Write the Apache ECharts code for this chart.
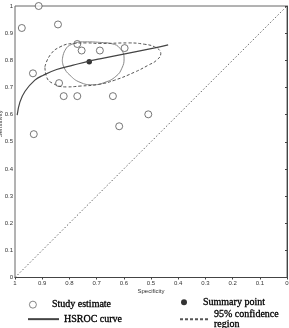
<!DOCTYPE html>
<html><head><meta charset="utf-8">
<script src="https://cdn.jsdelivr.net/npm/echarts@6/dist/echarts.min.js"></script>
<style>html,body{margin:0;padding:0;background:#fff}#c{width:289px;height:328px}</style>
</head><body><div id="c"></div>
<script>
// Study estimates: [specificity, sensitivity]
var studySpec = [0.975, 0.913, 0.842, 0.771, 0.755, 0.688, 0.597, 0.934, 0.838, 0.821, 0.771, 0.640, 0.617, 0.931, 0.510];
var studySens = [0.919, 1.000, 0.932, 0.860, 0.836, 0.836, 0.845, 0.752, 0.716, 0.668, 0.668, 0.668, 0.557, 0.528, 0.601];
// Summary point
var summarySpec = [0.727];
var summarySens = [0.795];
// HSROC curve
var hsrocSpec = [0.992, 0.982, 0.963, 0.927, 0.896, 0.847, 0.786, 0.728, 0.688, 0.633, 0.559, 0.486, 0.437];
var hsrocSens = [0.598, 0.646, 0.686, 0.727, 0.745, 0.766, 0.782, 0.797, 0.805, 0.816, 0.831, 0.846, 0.857];
// 95% confidence region (dashed)
var confSpec = [0.890, 0.871, 0.835, 0.786, 0.737, 0.688, 0.584, 0.523, 0.486, 0.465, 0.464, 0.480, 0.510, 0.559, 0.633, 0.694, 0.761, 0.810, 0.859, 0.884, 0.890];
var confSens = [0.776, 0.819, 0.849, 0.862, 0.864, 0.862, 0.864, 0.859, 0.849, 0.831, 0.825, 0.800, 0.782, 0.757, 0.727, 0.711, 0.705, 0.702, 0.714, 0.739, 0.776];
// Inner solid region
var predSpec = [0.826, 0.816, 0.791, 0.743, 0.688, 0.644, 0.614, 0.599, 0.607, 0.629, 0.669, 0.714, 0.761, 0.798, 0.820, 0.826];
var predSens = [0.800, 0.837, 0.859, 0.868, 0.866, 0.861, 0.844, 0.808, 0.771, 0.741, 0.719, 0.710, 0.719, 0.745, 0.774, 0.800];
// Chance line
var diagSpec = [1, 0];
var diagSens = [0, 1];

function zip(a, b) { return a.map(function (v, i) { return [v, b[i]]; }); }

var chart = echarts.init(document.getElementById('c'), null, {renderer: 'canvas'});
var tickFont = {fontFamily: 'Arial, Liberation Sans, sans-serif', fontSize: 6, color: '#333'};
var legFont = {fontFamily: 'Liberation Serif, Times New Roman, serif', fontSize: 10, fontWeight: 'normal', color: '#000', lineHeight: 10, textBorderColor: '#000', textBorderWidth: 0.3};

chart.setOption({
  animation: false,
  backgroundColor: '#fff',
  grid: {left: 15, right: 2, top: 6, bottom: 50.5, containLabel: false, outerBoundsMode: 'none',
         show: true, borderColor: '#666', borderWidth: 1},
  xAxis: {
    type: 'value', min: 0, max: 1, interval: 0.1, inverse: true,
    name: 'Specificity', nameLocation: 'middle', nameGap: 11, nameMoveOverlap: false,
    nameTextStyle: tickFont,
    axisLine: {show: true, lineStyle: {color: '#444', width: 1}},
    axisTick: {show: true, length: 2, lineStyle: {color: '#444'}},
    axisLabel: Object.assign({margin: 3}, tickFont),
    splitLine: {show: false}
  },
  yAxis: {
    type: 'value', min: 0, max: 1, interval: 0.1,
    name: 'Sensitivity', nameLocation: 'middle', nameGap: 12, nameRotate: 90, nameMoveOverlap: false,
    nameTextStyle: Object.assign({padding: [0, 0, 0, 36]}, tickFont),
    axisLine: {show: true, lineStyle: {color: '#444', width: 1}},
    axisTick: {show: true, length: 2, lineStyle: {color: '#444'}},
    axisLabel: Object.assign({margin: 2}, tickFont),
    splitLine: {show: false}
  },
  legend: [
    {data: [{name: 'Study estimate'}], left: 24, top: 294.5, itemWidth: 28, itemHeight: 7, textStyle: legFont, selectedMode: false,
     itemStyle: {borderWidth: 0.8, borderColor: '#444'}},
    {data: [{name: 'HSROC curve'}], left: 22, top: 309, itemWidth: 31, itemHeight: 8, textStyle: legFont, selectedMode: false,
     itemStyle: {opacity: 0}},
    {data: [{name: 'Summary point'}], left: 176, top: 292, itemWidth: 28, itemHeight: 6, textStyle: legFont, selectedMode: false},
    {data: [{name: '95% confidence\nregion'}], left: 174, top: 304, itemWidth: 29, itemHeight: 8, textStyle: legFont, selectedMode: false,
     itemStyle: {opacity: 0}}
  ],
  series: [
    {type: 'line', name: 'diag', data: zip(diagSpec, diagSens), symbol: 'none', silent: true,
     lineStyle: {color: '#666', width: 1, type: [1.5, 2]}},
    {type: 'line', name: 'inner', data: zip(predSpec, predSens), symbol: 'none', smooth: 0.5, silent: true,
     lineStyle: {color: '#888', width: 1}},
    {type: 'line', name: '95% confidence\nregion', data: zip(confSpec, confSens), symbol: 'none', smooth: 0.5,
     lineStyle: {color: '#555', width: 1, type: [3, 2]}, itemStyle: {color: '#555'}},
    {type: 'line', name: 'HSROC curve', data: zip(hsrocSpec, hsrocSens), symbol: 'none', smooth: 0.4,
     lineStyle: {color: '#444', width: 1.2}, itemStyle: {color: '#444'}},
    {type: 'scatter', name: 'Study estimate', data: zip(studySpec, studySens), symbol: 'circle', symbolSize: 7,
     itemStyle: {color: '#fff', borderColor: '#555', borderWidth: 1}},
    {type: 'scatter', name: 'Summary point', data: zip(summarySpec, summarySens), symbol: 'circle', symbolSize: 5.5,
     itemStyle: {color: '#000'}}
  ]
});
</script></body></html>
